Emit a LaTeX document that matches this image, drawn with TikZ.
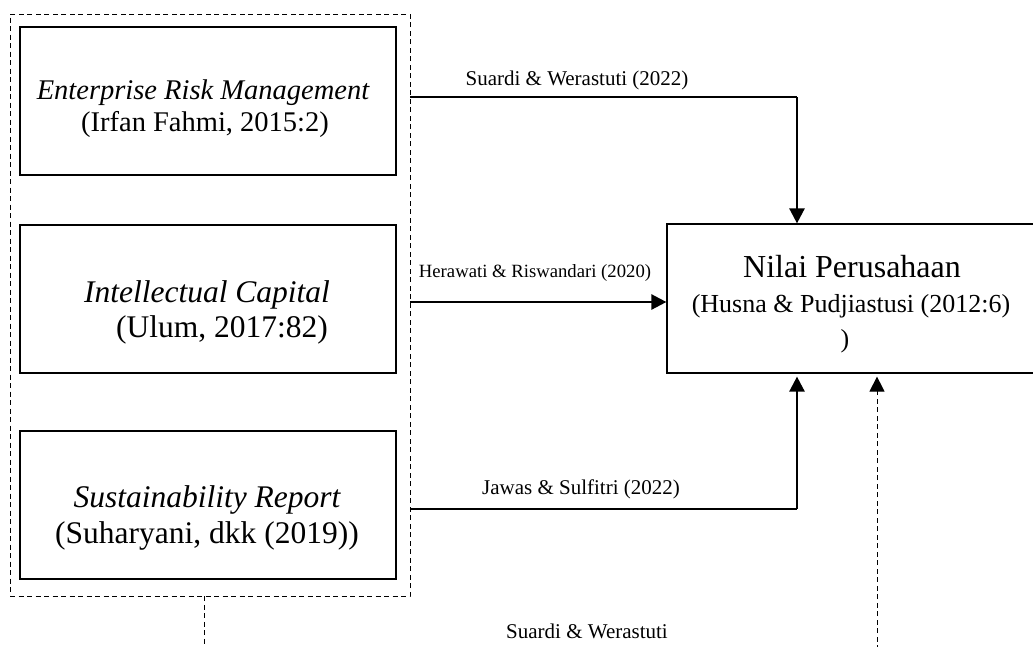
\documentclass[tikz,border=0pt]{standalone}
\usepackage{fontspec}
\setmainfont{Liberation Serif}
\usetikzlibrary{arrows.meta}
\begin{document}
\begin{tikzpicture}[x=1pt,y=-1pt,
  varbox/.style={draw=black,line width=1.2pt,minimum width=376pt,minimum height=148pt,inner sep=0pt},
  groupbox/.style={draw=black,line width=0.9pt,dash pattern=on 5pt off 3.5pt,minimum width=400pt,minimum height=582pt,inner sep=0pt},
  txt/.style={anchor=base,inner sep=0pt},
  conn/.style={line width=2.5pt,-{Triangle[length=15pt,width=15pt]}},
  plainconn/.style={line width=2.5pt},
  dashconn/.style={line width=1pt,dash pattern=on 5pt off 3.5pt},
  lbl/.style={anchor=base,inner sep=0pt,font=\fontsize{21}{25}\selectfont},
]
\useasboundingbox (0,0) rectangle (1033,646);
% group and variable boxes
\node[groupbox] (grp) at (210,305) {};
\node[varbox] (erm) at (208,101) {};
\node[varbox] (ic) at (208,299) {};
\node[varbox] (sr) at (208,505) {};
\node[draw=black,line width=1.2pt,minimum width=369pt,minimum height=149pt,inner sep=0pt] (nilai) at (851.5,298.5) {};
% texts in boxes
\node[txt,font=\fontsize{28.5}{34}\selectfont] (ermA) at (203,99) {\itshape Enterprise Risk Management};
\node[txt,font=\fontsize{28.5}{34}\selectfont] (ermB) at (205,131) {(Irfan Fahmi, 2015:2)};
\node[txt,font=\fontsize{31.5}{38}\selectfont] (icA) at (207,302) {\itshape Intellectual Capital};
\node[txt,font=\fontsize{31.5}{38}\selectfont] (icB) at (222,337) {(Ulum, 2017:82)};
\node[txt,font=\fontsize{31.5}{38}\selectfont] (srA) at (207,507) {\itshape Sustainability Report};
\node[txt,font=\fontsize{31.5}{38}\selectfont] (srB) at (207,543) {(Suharyani, dkk (2019))};
\node[txt,font=\fontsize{32}{38}\selectfont] (nA) at (852,277) {Nilai Perusahaan};
\node[txt,font=\fontsize{26}{31}\selectfont] (nB) at (851,312) {(Husna \& Pudjiastusi (2012:6)};
\node[txt,font=\fontsize{26}{31}\selectfont] (nC) at (845,347) {)};
% connector coordinates
\coordinate (c1) at (797,97);
\coordinate (c2) at (410,302);
\coordinate (c3) at (797,509);
\coordinate (d1) at (204,650);
\coordinate (d2) at (877,650);
% connectors
\draw[plainconn] (grp.east |- c1) -- (c1);
\draw[conn] (c1) -- (nilai.north -| c1);
\draw[conn] (grp.east |- c2) -- (nilai.west |- c2);
\draw[plainconn] (grp.east |- c3) -- (c3);
\draw[conn,shorten >=3pt] (c3) -- (nilai.south -| c3);
\draw[dashconn] (grp.south -| d1) -- (d1);
\draw[dashconn,-{Triangle[length=15pt,width=15pt]},shorten >=3pt] (d2) -- (nilai.south -| d2);
% labels
\node[lbl] (l1) at (577,85) {Suardi \& Werastuti (2022)};
\node[lbl,font=\fontsize{18.7}{22}\selectfont] (l2) at (535,277) {Herawati \& Riswandari (2020)};
\node[lbl] (l3) at (581,494) {Jawas \& Sulfitri (2022)};
\node[lbl] (l4) at (587,638) {Suardi \& Werastuti};
\end{tikzpicture}
\end{document}
